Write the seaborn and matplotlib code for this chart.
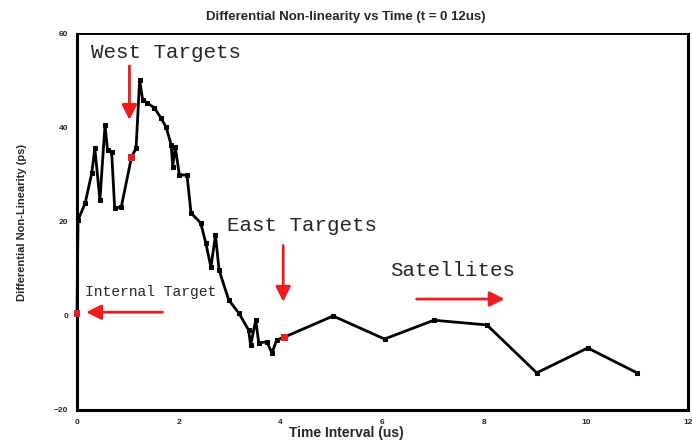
import matplotlib
matplotlib.use("Agg")
import matplotlib.pyplot as plt
import seaborn as sns
import pandas as pd
from matplotlib.ticker import MultipleLocator

# Differential non-linearity measured over the 0-12 us time interval
time_us = [0.00, 0.02, 0.16, 0.29, 0.35, 0.45, 0.55, 0.60, 0.68, 0.74, 0.87,
           1.07, 1.16, 1.23, 1.29, 1.38, 1.52, 1.65, 1.75, 1.85, 1.88, 1.93,
           2.01, 2.16, 2.24, 2.43, 2.53, 2.63, 2.72, 2.79, 2.98, 3.18, 3.37,
           3.41, 3.51, 3.57, 3.73, 3.83, 3.92, 4.07, 5.03, 6.04, 7.01, 8.05,
           9.03, 10.03, 11.00]
dnl_ps = [0.6, 20.4, 24.0, 30.4, 35.7, 24.7, 40.6, 35.3, 34.9, 23.0, 23.2,
          33.8, 35.7, 50.2, 46.0, 45.3, 44.3, 42.1, 40.2, 36.4, 31.8, 36.0,
          30.0, 30.0, 21.9, 19.8, 15.5, 10.4, 17.2, 9.8, 3.4, 0.6, -3.0,
          -6.2, -0.9, -5.7, -5.5, -7.9, -5.1, -4.5, 0.0, -4.9, -0.9, -1.9,
          -12.1, -6.8, -12.1]

# Reference targets highlighted in red
target_time = [0.00, 1.07, 4.07]
target_dnl = [0.6, 33.8, -4.5]

y_ticks = [-20, 0, 20, 40, 60]
x_ticks = [0, 2, 4, 6, 8, 10, 12]

df = pd.DataFrame({"t": time_us, "dnl": dnl_ps})
targets = pd.DataFrame({"t": target_time, "dnl": target_dnl})

sns.set_style("white")
plt.rcParams["font.family"] = ["Liberation Sans", "DejaVu Sans"]

fig = plt.figure(figsize=(6.92, 4.41), dpi=100)
ax = fig.add_axes([77 / 692, 31 / 441, 611 / 692, 376 / 441])

sns.lineplot(data=df, x="t", y="dnl", ax=ax, sort=False, color="black",
             linewidth=2.0, marker="s", markersize=3.5,
             markeredgecolor="black", markerfacecolor="black", clip_on=False)
sns.scatterplot(data=targets, x="t", y="dnl", ax=ax, color="#ee1c1c",
                marker="s", s=24, edgecolor="none", zorder=6, clip_on=False)

ax.set_xlim(0, 12)
ax.set_ylim(-20, 60)
ax.set_xticks(x_ticks)
ax.set_yticks(y_ticks)
ax.xaxis.set_minor_locator(MultipleLocator(1))
ax.yaxis.set_minor_locator(MultipleLocator(10))
ax.tick_params(axis="both", which="both", direction="inout", color="black",
               labelsize=6, width=1.2)
ax.tick_params(which="major", length=6)
ax.tick_params(which="minor", length=4)
for lbl in ax.get_xticklabels() + ax.get_yticklabels():
    lbl.set_fontweight("bold")

for side, lw in [("left", 2.2), ("bottom", 2.2), ("right", 2.2), ("top", 1.4)]:
    ax.spines[side].set_visible(True)
    ax.spines[side].set_color("black")
    ax.spines[side].set_linewidth(lw)
    ax.spines[side].set_zorder(4)

ax.set_xlabel("")
ax.set_ylabel("")
fig.text(0.5, 0.018, "Time Interval (us)", ha="center", va="center",
         fontsize=10, fontweight="bold")
fig.text(0.032, 0.495, "Differential Non-Linearity (ps)", ha="center",
         va="center", rotation=90, fontsize=8, fontweight="bold")
fig.text(0.5, 0.962, "Differential Non-linearity vs Time (t = 0 12us)",
         ha="center", va="center", fontsize=9.5, fontweight="bold")

# Annotations
mono = ["Liberation Mono", "DejaVu Sans Mono"]
red = "#ee1c1c"
ax.text(0.28, 56.0, "West Targets", family=mono, fontsize=15, va="center")
ax.text(2.95, 19.2, "East Targets", family=mono, fontsize=15, va="center")
ax.text(6.15, 9.6, "Satellites", family=mono, fontsize=15, va="center")
ax.text(0.15, 5.2, "Internal Target", family=mono, fontsize=10.5, va="center")

arrow = dict(arrowstyle="-|>,head_length=0.9,head_width=0.45", color=red,
             lw=2.0, shrinkA=0, shrinkB=0)
ax.annotate("", xy=(1.03, 41.7), xytext=(1.03, 53.2), arrowprops=arrow)
ax.annotate("", xy=(4.05, 3.0), xytext=(4.05, 15.0), arrowprops=arrow)
ax.annotate("", xy=(8.4, 3.6), xytext=(6.67, 3.6), arrowprops=arrow)
ax.annotate("", xy=(0.18, 0.8), xytext=(1.68, 0.8), arrowprops=arrow)

fig.savefig("out.png", dpi=100)
